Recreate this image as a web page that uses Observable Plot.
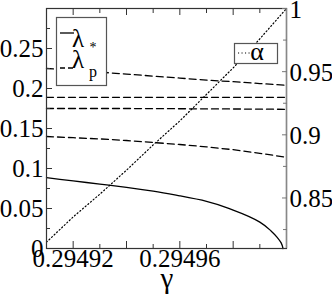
<!DOCTYPE html>
<html>
<head>
<meta charset="utf-8">
<script src="https://cdn.jsdelivr.net/npm/d3@7"></script>
<script src="https://cdn.jsdelivr.net/npm/@observablehq/plot@0.6"></script>
<style>
  html, body { margin: 0; padding: 0; background: #fff; }
  #chart svg { display: block; }
  #chart svg, #chart svg text, #chart svg g { font-family: "Liberation Serif", "Times New Roman", "DejaVu Serif", serif !important; }
</style>
</head>
<body>
<div id="chart"></div>
<script>
// ---- data ----
const gamma = [0.29491, 0.29492, 0.29493, 0.29494, 0.29495, 0.29496, 0.29497, 0.29498, 0.29499, 0.29500];

const lamStarGamma = [0.29491, 0.29492, 0.29493, 0.29494, 0.29495, 0.29496, 0.29497, 0.29498, 0.29499, 0.2949942, 0.2949965, 0.294998, 0.2949987];
const lamStar      = [0.0885, 0.0845, 0.0805, 0.0765, 0.0718, 0.0658, 0.0590, 0.0480, 0.0330, 0.0220, 0.0140, 0.0070, 0.0];

const lamP1 = [0.225, 0.223, 0.2205, 0.218, 0.2155, 0.213, 0.2105, 0.2085, 0.2062, 0.204];
const lamP2 = [0.189, 0.189, 0.189, 0.189, 0.189, 0.189, 0.189, 0.189, 0.189, 0.189];
const lamP3 = [0.175, 0.175, 0.175, 0.175, 0.1748, 0.1747, 0.1745, 0.1744, 0.1742, 0.174];
const lamP4 = [0.140, 0.1385, 0.137, 0.135, 0.1325, 0.130, 0.127, 0.1235, 0.119, 0.114];

const alpha = [0.815, 0.835, 0.853, 0.872, 0.892, 0.911, 0.932, 0.953, 0.976, 1.0];

// ---- ticks ----
const xDomain = [0.29491, 0.29500];
const xMajorTicks = [0.29492, 0.29494, 0.29496, 0.29498];
const xLabelTicks = [0.29492, 0.29496];
const xMinorTicks = [0.29491, 0.29493, 0.29495, 0.29497, 0.29499];
const yDomain = [0, 0.3];
const yMajorTicks = [0, 0.05, 0.1, 0.15, 0.2, 0.25];
const yMinorTicks = [0.025, 0.075, 0.125, 0.175, 0.225, 0.275];
const alphaDomain = [0.81, 1.0];
const alphaMajorTicks = [0.85, 0.9, 0.95, 1.0];
const alphaMinorTicks = [0.825, 0.875, 0.925, 0.975];

// map right-axis values into the left y scale
const toY = a => (a - alphaDomain[0]) / (alphaDomain[1] - alphaDomain[0]) * (yDomain[1] - yDomain[0]) + yDomain[0];
const fromY = y => (y - yDomain[0]) / (yDomain[1] - yDomain[0]) * (alphaDomain[1] - alphaDomain[0]) + alphaDomain[0];

const rows = (xs, ys) => xs.map((g, i) => ({g, v: ys[i]}));

const font = "Liberation Serif";
const lw = 1.3;
const none = () => "";

const chart = Plot.plot({
  width: 332,
  height: 295,
  marginLeft: 46,
  marginRight: 46,
  marginTop: 8,
  marginBottom: 47,
  x: {domain: xDomain},
  y: {domain: yDomain},
  style: {fontFamily: font, fontSize: "25px", background: "#fff", color: "#000", overflow: "visible"},
  marks: [
    // data
    Plot.line(rows(gamma, alpha.map(toY)), {x: "g", y: "v", stroke: "#000", strokeWidth: 1.2, strokeDasharray: "1.1,2.4"}),
    Plot.line(rows(gamma, lamP1), {x: "g", y: "v", stroke: "#000", strokeWidth: lw, strokeDasharray: "7,4"}),
    Plot.line(rows(gamma, lamP2), {x: "g", y: "v", stroke: "#000", strokeWidth: lw, strokeDasharray: "7,4"}),
    Plot.line(rows(gamma, lamP3), {x: "g", y: "v", stroke: "#000", strokeWidth: lw, strokeDasharray: "7,4"}),
    Plot.line(rows(gamma, lamP4), {x: "g", y: "v", stroke: "#000", strokeWidth: lw, strokeDasharray: "7,4"}),
    Plot.line(rows(lamStarGamma, lamStar), {x: "g", y: "v", stroke: "#000", strokeWidth: lw, curve: "monotone-y"}),

    // frame
    Plot.frame({stroke: "#333", strokeWidth: 1.2}),
    Plot.ruleX([xDomain[1]], {stroke: "#888", strokeWidth: 1.4}),

    // bottom x axis
    Plot.axisX(xMajorTicks, {anchor: "bottom", tickSize: -7, tickFormat: none, label: null, stroke: "#333"}),
    Plot.axisX(xMinorTicks, {anchor: "bottom", tickSize: -4, tickFormat: none, label: null, stroke: "#333"}),
    Plot.axisX(xLabelTicks, {anchor: "bottom", tickSize: 0, tickPadding: 1, tickFormat: d => d.toFixed(5), label: null, fontSize: 25}),
    // top x axis
    Plot.axisX(xMajorTicks, {anchor: "top", tickSize: -6, tickFormat: none, label: null, stroke: "#333"}),
    Plot.axisX(xMinorTicks, {anchor: "top", tickSize: -4, tickFormat: none, label: null, stroke: "#333"}),

    // left y axis
    Plot.axisY(yMajorTicks, {anchor: "left", tickSize: -6, tickFormat: none, label: null, stroke: "#333"}),
    Plot.axisY(yMinorTicks, {anchor: "left", tickSize: -4, tickFormat: none, label: null, stroke: "#333"}),
    Plot.axisY(yMajorTicks, {anchor: "left", tickSize: 0, tickPadding: 3, tickFormat: d => String(d), label: null, fontSize: 25}),

    // right y axis (alpha)
    Plot.axisY(alphaMajorTicks.map(toY), {anchor: "right", tickSize: -5, tickFormat: none, label: null, stroke: "#777"}),
    Plot.axisY(alphaMinorTicks.map(toY), {anchor: "right", tickSize: -4, tickFormat: none, label: null, stroke: "#777"}),
    Plot.axisY(alphaMajorTicks.map(toY), {anchor: "right", tickSize: 0, tickPadding: 3, dy: 1, tickFormat: d => String(+fromY(d).toFixed(3)), label: null, fontSize: 25})
  ]
});

document.getElementById("chart").appendChild(chart);

// ---- legends and axis label ----
const svg = d3.select(chart);
const g = svg.append("g").attr("fill", "#000");

// left legend
g.append("rect").attr("x", 56.5).attr("y", 17.5).attr("width", 50).attr("height", 68)
  .attr("fill", "#fff").attr("stroke", "#555").attr("stroke-width", 1.2);
g.append("line").attr("x1", 60).attr("x2", 74).attr("y1", 33).attr("y2", 33)
  .attr("stroke", "#000").attr("stroke-width", lw);
g.append("text").attr("x", 78).attr("y", 47).attr("font-size", 25).text("λ");
g.append("text").attr("x", 93).attr("y", 52).attr("font-size", 14).text("*");
g.append("line").attr("x1", 60).attr("x2", 74).attr("y1", 68).attr("y2", 68)
  .attr("stroke", "#000").attr("stroke-width", lw).attr("stroke-dasharray", "5,3");
g.append("text").attr("x", 78).attr("y", 68).attr("font-size", 25).text("λ");
g.append("text").attr("x", 93).attr("y", 77).attr("font-size", 16).text("p");

// right legend
g.append("rect").attr("x", 234.5).attr("y", 43.5).attr("width", 43).attr("height", 20)
  .attr("fill", "#fff").attr("stroke", "#555").attr("stroke-width", 1.2);
g.append("line").attr("x1", 238).attr("x2", 254).attr("y1", 53).attr("y2", 53)
  .attr("stroke", "#000").attr("stroke-width", 1.2).attr("stroke-dasharray", "1.1,2.4");
g.append("text").attr("x", 257).attr("y", 60).attr("font-size", 26).text("α");

// x axis label
g.append("text").attr("x", 167).attr("y", 288).attr("font-size", 29).attr("text-anchor", "middle").text("γ");
</script>
</body>
</html>
